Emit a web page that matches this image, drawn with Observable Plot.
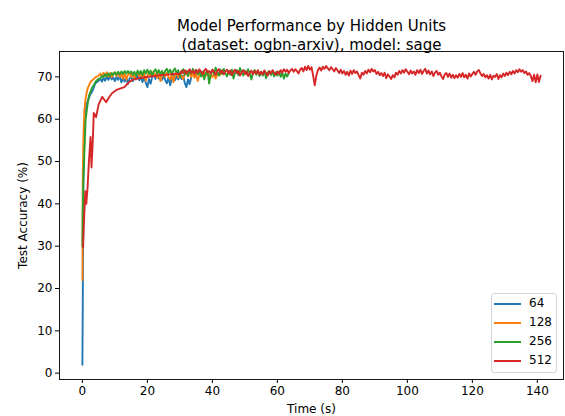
<!DOCTYPE html>
<html><head><meta charset="utf-8">
<script src="https://cdn.jsdelivr.net/npm/d3@7"></script>
<script src="https://cdn.jsdelivr.net/npm/@observablehq/plot@0.6"></script>
<style>
body{margin:0;background:#fff;font-family:"DejaVu Sans",sans-serif;}
#wrap{position:relative;width:565px;height:416px;overflow:hidden;}
#legend{position:absolute;left:491px;top:293px;width:66px;height:80px;border:1px solid #d4d4d4;border-radius:3px;background:rgba(255,255,255,0.85);box-sizing:border-box;}
.item{position:absolute;left:0;height:19px;width:66px;font-size:12px;color:#000;}
.item .sw{position:absolute;left:2px;top:8px;width:27px;height:0;border-top:2px solid;}
.item .lb{position:absolute;left:37px;top:1px;}
</style></head><body><div id="wrap"></div>
<script>
const seriesNames = ["64", "128", "256", "512"];
const seriesColors = ["#1f77b4", "#ff7f0e", "#2ca02c", "#d62728"];
const titleLines = ["Model Performance by Hidden Units", "(dataset: ogbn-arxiv), model: sage"];
const xTicks = [0, 20, 40, 60, 80, 100, 120, 140];
const yTicks = [0, 10, 20, 30, 40, 50, 60, 70];
const tailStep = 0.5;

// 64 hidden units
const early64T = [0, 0.15, 0.3, 0.6, 0.9, 1.5, 2, 2.5, 3, 3.5, 4, 4.5, 5];
const early64V = [2, 22, 45, 56, 62.5, 64, 65, 66, 66.5, 67.5, 68.5, 68.8, 69.1];
const tail64Start = 5.5;
const tail64V = [69.6, 68.9, 69.8, 69.1, 70.1, 69.3, 70.2, 69.4, 69.9,
  69.0, 70.0, 69.3, 70.3, 68.7, 69.8, 68.9, 69.9, 68.3, 69.6,
  70.1, 69.0, 70.2, 69.4, 70.4, 69.2, 70.0, 68.8, 69.9, 68.6,
  67.6, 69.5, 68.4, 70.1, 70.5, 69.5, 70.6, 69.6, 70.4, 69.3,
  70.3, 69.2, 68.5, 69.9, 68.0, 69.6, 70.4, 69.2, 70.2, 69.4,
  70.5, 69.5, 70.3, 68.6, 67.6, 69.4, 68.3, 69.9];

// 128 hidden units
const early128T = [0, 0.1, 0.3, 0.6, 1, 1.5, 2, 2.5, 3, 3.5, 4, 4.5, 5];
const early128V = [22, 45, 55.5, 62, 65, 67, 68, 68.8, 69.2, 69.5, 69.9, 70.1, 70.3];
const tail128Start = 5.5;
const tail128V = [70.8, 70.0, 71.0, 70.2, 71.1, 70.1, 70.9, 69.9, 70.8,
  71.1, 70.2, 71.0, 70.0, 70.7, 69.6, 70.8, 69.3, 70.5, 71.0,
  70.0, 70.8, 69.6, 70.6, 71.1, 70.1, 70.9, 69.9, 70.7, 69.1,
  70.4, 71.0, 70.2, 71.1, 70.1, 70.8, 69.8, 70.7, 69.0, 70.3,
  70.9, 70.1, 71.0, 70.0, 69.4, 70.7, 68.7, 70.4, 70.8, 69.9,
  70.9, 70.1, 69.5, 70.7, 71.1, 70.2, 71.0, 70.0, 70.8, 69.8,
  70.7, 69.0, 70.5, 70.9, 70.2, 71.1, 70.3, 71.0, 70.0, 70.8,
  69.9, 70.7, 69.6, 70.6, 70.9, 70.5];

// 256 hidden units
const early256T = [0, 0.1, 0.3, 0.6, 1, 1.5, 2, 2.5, 3, 3.5, 4, 4.5, 5];
const early256V = [30, 38, 45.5, 52, 60, 63, 65.5, 66.5, 67.5, 68, 68.8, 69.2, 69.6];
const tail256Start = 5.5;
const tail256V = [69.6, 70.3, 70.0, 70.6, 70.2, 70.8, 70.3, 70.9, 70.5,
  71.1, 70.5, 71.2, 70.6, 71.3, 70.7, 71.4, 70.8, 71.4, 70.9,
  71.3, 70.5, 71.2, 70.3, 71.5, 70.7, 71.4, 70.4, 71.6, 70.8,
  71.7, 70.7, 71.5, 70.2, 71.3, 71.8, 70.8, 71.6, 70.6, 71.4,
  70.3, 71.5, 71.9, 70.9, 71.7, 70.6, 71.5, 72.0, 70.8, 71.6,
  70.0, 71.3, 71.8, 70.5, 71.4, 70.2, 71.6, 70.8, 71.9, 71.0,
  71.7, 70.6, 71.5, 70.1, 71.2, 69.4, 71.0, 71.4, 68.4, 70.8,
  71.6, 70.6, 72.2, 71.1, 70.3, 71.7, 70.7, 71.9, 70.9, 70.1,
  71.4, 70.5, 71.7, 69.6, 71.1, 71.6, 70.4, 72.1, 71.0, 70.3,
  71.5, 70.6, 71.8, 70.8, 69.4, 71.1, 71.6, 70.5, 71.4, 70.2,
  71.2, 70.3, 71.5, 69.7, 71.0, 71.4, 70.4, 71.2, 70.1, 71.1,
  70.3, 71.3, 70.0, 71.0, 69.6, 70.8, 70.1, 70.9];

// 512 hidden units
const early512T = [0.2, 0.5, 0.9, 1.2, 1.6, 2.0, 2.5, 2.8, 3.2, 3.5, 4.2, 5.0, 6.1, 7.3, 8.3, 9.2, 10.7, 12.9, 14.4, 15.4, 17, 19, 21, 23, 25, 27, 29];
const early512V = [29.7, 36, 43, 40, 44, 50, 55.8, 48.6, 55, 61.5, 60.5, 63.5, 65.3, 64, 65.3, 66.2, 67, 67.6, 68.8, 69.3, 69.6, 69.9, 70.1, 70.3, 70.5, 70.6, 70.8];
const tail512Start = 30;
const tail512V = [70.6, 71.4, 70.9, 71.6, 70.8, 71.3, 71.8, 70.9, 71.5, 70.7,
  71.6, 71.0, 71.8, 71.2, 70.6, 71.5, 71.9, 71.1, 71.4, 70.8,
  71.7, 71.2, 70.5, 71.4, 71.8, 70.9, 71.5, 70.6, 71.3, 71.7,
  70.8, 71.5, 70.4, 71.2, 71.7, 70.9, 71.4, 70.3, 71.1, 71.6,
  70.7, 71.3, 70.2, 71.0, 71.5, 70.6, 71.4, 70.8, 71.6, 70.5,
  71.2, 70.6, 71.5, 70.9, 70.3, 71.3, 70.8, 71.6, 71.0, 70.5,
  71.3, 70.7, 71.6, 71.0, 71.8, 71.2, 71.7, 70.9, 71.5, 71.9,
  71.2, 71.8, 71.4, 70.8, 71.7, 72.1, 71.3, 72.4, 71.6, 72.6,
  71.7, 72.3, 70.3, 68.0, 70.4, 71.6, 72.2, 71.5, 72.4, 71.9,
  72.6, 72.0, 71.6, 72.3, 71.8, 71.3, 72.1, 71.5, 70.9, 71.7,
  70.8, 71.4, 70.5, 71.2, 70.3, 71.5, 70.7, 71.6, 70.9, 71.3,
  70.4, 69.6, 71.0, 70.5, 71.4, 70.8, 71.7, 71.1, 71.9, 71.3,
  71.6, 70.7, 71.2, 70.4, 70.9, 70.2, 71.0, 69.7, 70.6, 70.1,
  69.5, 70.4, 69.9, 71.0, 70.5, 71.4, 70.8, 71.6, 71.0, 71.8,
  71.2, 70.6, 71.5, 70.8, 71.3, 70.5, 71.6, 70.9, 71.7, 70.7,
  71.4, 71.9, 70.8, 71.5, 70.6, 71.3, 70.2, 71.0, 71.4, 70.5,
  71.0, 70.1, 69.5, 70.6, 70.9, 70.0, 70.8, 69.8, 70.5, 69.7,
  70.4, 69.8, 70.7, 70.0, 70.9, 69.9, 70.5, 69.6, 70.8, 70.1,
  70.7, 71.2, 70.5, 71.3, 71.6, 70.8, 70.2, 70.7, 69.9, 70.4,
  69.6, 70.5, 69.4, 70.3, 70.0, 70.7, 69.5, 70.4, 69.9, 70.8,
  70.2, 71.0, 70.4, 71.2, 70.6, 71.4, 70.8, 71.6, 71.1, 71.8,
  71.2, 71.6, 70.9, 71.3, 70.5, 70.9, 70.2, 69.0, 70.5, 68.7,
  70.6, 68.8, 70.3];

function build(name, et, ev, start, tv) {
  const rows = et.map((t, i) => ({s: name, t, v: ev[i]}));
  tv.forEach((v, i) => rows.push({s: name, t: start + i * tailStep, v}));
  return rows;
}
const rows = [
  ...build("64", early64T, early64V, tail64Start, tail64V),
  ...build("128", early128T, early128V, tail128Start, tail128V),
  ...build("256", early256T, early256V, tail256Start, tail256V),
  ...build("512", early512T, early512V, tail512Start, tail512V)
];

const chart = Plot.plot({
  width: 565, height: 416,
  marginLeft: 59, marginRight: 2, marginTop: 51, marginBottom: 37,
  style: {fontFamily: "DejaVu Sans", fontSize: "12px", color: "#000", background: "#fff"},
  x: {domain: [-7.05, 148.05]},
  y: {domain: [-1.5, 76]},
  color: {domain: seriesNames, range: seriesColors},
  marks: [
    Plot.line(rows, {x: "t", y: "v", z: "s", stroke: "s", strokeWidth: 1.9, curve: "linear"}),
    Plot.frame({stroke: "#000", strokeWidth: 0.9}),
    Plot.axisX({ticks: xTicks, tickSize: 4, tickPadding: 3, fontSize: 12, tickFormat: d => String(d), label: "Time (s)", labelAnchor: "center", labelOffset: 33, labelArrow: "none"}),
    Plot.axisY({ticks: yTicks, tickSize: 4, tickPadding: 3, fontSize: 12, tickFormat: d => String(d), label: "Test Accuracy (%)", labelAnchor: "center", labelOffset: 41, labelArrow: "none"}),
    Plot.text([titleLines[0]], {text: d => d, frameAnchor: "top", dy: -31, fontSize: 15}),
    Plot.text([titleLines[1]], {text: d => d, frameAnchor: "top", dy: -12, fontSize: 15})
  ]
});
const wrap = document.getElementById("wrap");
wrap.appendChild(chart);

const legend = document.createElement("div");
legend.id = "legend";
seriesNames.forEach((n, i) => {
  const it = document.createElement("div");
  it.className = "item";
  it.style.top = (1 + i * 19) + "px";
  const sw = document.createElement("div");
  sw.className = "sw";
  sw.style.borderTopColor = seriesColors[i];
  const lb = document.createElement("div");
  lb.className = "lb";
  lb.textContent = n;
  it.appendChild(sw); it.appendChild(lb);
  legend.appendChild(it);
});
wrap.appendChild(legend);
</script></body></html>
